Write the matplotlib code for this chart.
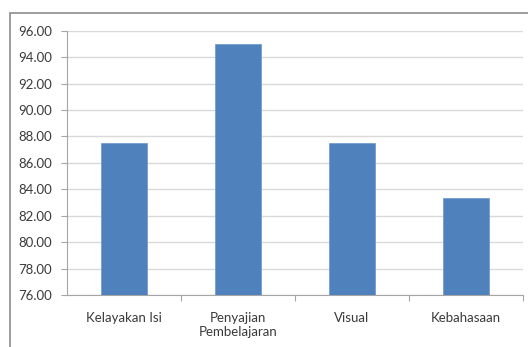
import matplotlib
matplotlib.use("Agg")
import matplotlib.pyplot as plt
from matplotlib.patches import Rectangle

categories = ["Kelayakan Isi", "Penyajian\nPembelajaran", "Visual", "Kebahasaan"]
values = [87.5, 95.0, 87.5, 83.33]
yticks = [76, 78, 80, 82, 84, 86, 88, 90, 92, 94, 96]

W, H = 528, 347
fig = plt.figure(figsize=(W / 100, H / 100), dpi=100)
plt.rcParams['font.family'] = ['Lato', 'DejaVu Sans']

# outer chart frame
fig.patches.append(Rectangle((10 / W, -0.1), 1.2, (H - 13) / H + 0.1,
                             transform=fig.transFigure, fill=False,
                             edgecolor='#8c8c8c', linewidth=1.2))

ax = fig.add_axes([67 / W, (H - 295) / H, (523 - 67) / W, (295 - 30.7) / H])
x = range(len(categories))
ax.bar(x, values, width=0.395, color='#4f81bd', edgecolor='#6a96cc',
       linewidth=0.5, zorder=3, bottom=0)
ax.set_ylim(76, 96)
ax.set_xlim(-0.5, 3.5)
ax.set_yticks(yticks)
ax.set_yticklabels([f"{v:.2f}" for v in yticks], fontsize=9.5, color='#3a3a3a')
ax.set_xticks(list(x))
ax.set_xticklabels(categories, fontsize=9.5, color='#3a3a3a', linespacing=1.25)
ax.tick_params(axis='x', length=0, pad=12)
ax.tick_params(axis='y', length=4, width=0.8, color='#a6a6a6', pad=7)
# minor ticks between categories
ax.set_xticks([0.5, 1.5, 2.5, 3.5], minor=True)
ax.tick_params(axis='x', which='minor', length=4, width=0.8, color='#a6a6a6')
ax.grid(axis='y', color='#d9d9d9', linewidth=1.0, zorder=0)
for s in ['top', 'right']:
    ax.spines[s].set_visible(False)
ax.spines['left'].set_color('#a6a6a6')
ax.spines['bottom'].set_color('#a6a6a6')
ax.spines['left'].set_linewidth(0.8)
ax.spines['bottom'].set_linewidth(0.8)

fig.savefig("out.png", dpi=100)
